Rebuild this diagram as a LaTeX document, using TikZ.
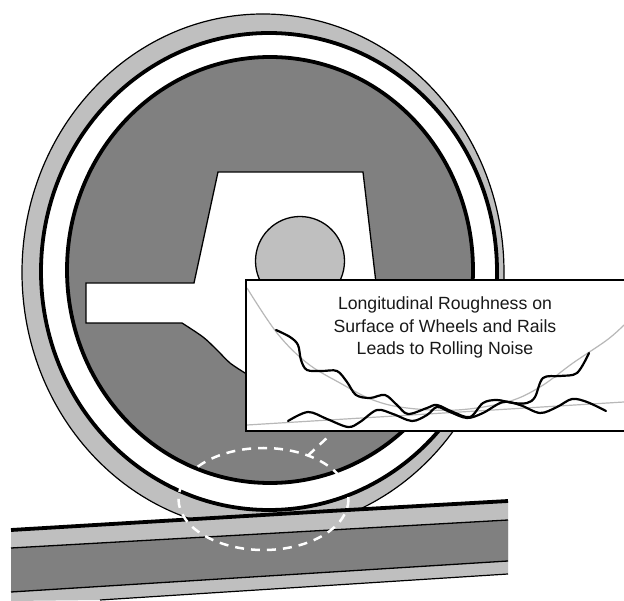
\documentclass[tikz,border=0pt]{standalone}
\usepackage{fontspec}
\setmainfont{Liberation Sans}
\definecolor{lightg}{gray}{0.75}
\definecolor{darkg}{gray}{0.5}
\definecolor{curveg}{gray}{0.72}
\tikzset{
 thinline/.style={draw=black,line width=1.2pt},
 ringline/.style={draw=black,line width=3.8pt},
 wavy/.style={draw=black,line width=2.2pt,line cap=round,smooth,tension=0.55},
 guide/.style={draw=curveg,line width=1.2pt,smooth,tension=0.6},
 whitedash/.style={draw=white,line width=2.5pt,dash pattern=on 9pt off 7pt},
}
\begin{document}
\begin{tikzpicture}[x=1pt,y=-1pt]
\useasboundingbox (0,0) rectangle (624,601);
\fill[white] (0,0) rectangle (624,601);
% wheel
\path[fill=lightg,thinline] (263,272.4) ellipse [x radius=241,y radius=258.4];
\path[fill=white,ringline] (269,271.5) ellipse [x radius=228,y radius=238.5];
\path[fill=darkg,ringline] (270,270) ellipse [x radius=203,y radius=213];
% hub
\path[fill=white,draw=black,line width=1.3pt] (86,283) -- (194,283) -- (218,172) -- (363,172) -- (378,300) -- (378,400) -- (250,400) -- (250,375)
 -- plot[smooth,tension=0.5] coordinates {(245,373) (230,363) (217,350) (203,337) (182,323)} -- (86,323) -- cycle;
\path[fill=lightg,draw=black,line width=1.3pt] (300,261) circle [radius=44.5];
% rail
\fill[lightg] (11,530) -- (508,501) -- (508,574) -- (100,600) -- (11,601) -- cycle;
\fill[darkg] (11,548) -- (508,520) -- (508,561) -- (11,592) -- cycle;
\draw[line width=3.8pt] (11,530) -- (330,511) -- (508,501);
\draw[line width=1.3pt] (11,548) -- (508,520);
\draw[line width=1.3pt] (11,592) -- (508,561);
\draw[line width=1.2pt] (100,600) -- (508,574);
% focus ellipse
\coordinate (kink) at (308,455.5);
\coordinate (boxfoot) at (329,436);
\path[whitedash] (263.5,499) ellipse [x radius=85,y radius=51];
\path[whitedash] (kink) -- (boxfoot);
% inset
\path[fill=white,draw=black,line width=2.4pt] (246,280) rectangle (640,431);
\begin{scope}
\clip (247.2,281.2) rectangle (624,429.8);
\draw[guide] plot coordinates {(247,288) (277,333) (307,363) (340,383) (373,400) (407,408) (457,410) (507,402) (540,387) (573,363) (607,340) (624,325)};
\draw[guide] (247,425) -- (624,402);
\end{scope}
\draw[wavy] plot coordinates {(276,330) (290,337) (298,345) (301,360) (307,370) (322,371) (337,371) (347,382) (356,395) (370,398) (385,395) (397,405) (408,414) (427,408) (437,405) (453,412) (470,417) (483,403) (497,400) (513,403) (527,403) (535,397) (543,378) (560,376) (577,373) (589,353)};
\draw[wavy] plot coordinates {(288,421) (308,412) (327,419) (348,427) (360,422) (377,410) (393,414) (412,421) (427,415) (437,407) (450,412) (467,418) (483,413) (503,402) (520,405) (540,413) (557,407) (572,399) (587,402) (606,411)};
\node[align=center,font=\fontsize{17.65}{22.3}\selectfont,inner sep=0pt,text=black!90] (caption) at (445,327.5) {Longitudinal Roughness on\\Surface of Wheels and Rails\\Leads to Rolling Noise};
\end{tikzpicture}
\end{document}
